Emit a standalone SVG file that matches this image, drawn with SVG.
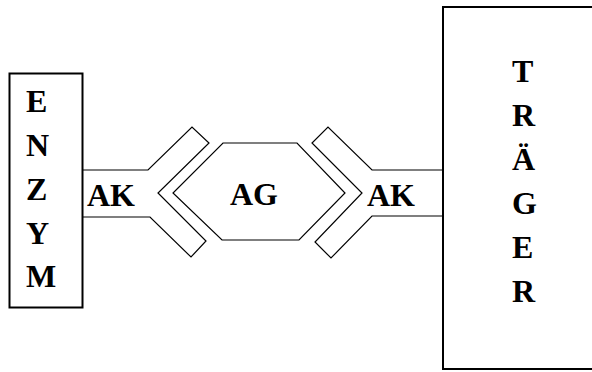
<svg xmlns="http://www.w3.org/2000/svg" width="592" height="372" viewBox="0 0 592 372">
<style>
.box{fill:none;stroke:#000;stroke-width:2}
.ln{fill:none;stroke:#000;stroke-width:1.2;stroke-linejoin:miter}
.t{font-family:"Liberation Serif","Times New Roman",serif;font-weight:bold;font-size:32px;fill:#000}
</style>
<rect width="592" height="372" fill="#fff"/>
<g id="enzym">
<rect class="box" x="9.5" y="73.5" width="73" height="234"/>
<text class="t" x="26" y="112">E</text>
<text class="t" x="26" y="156">N</text>
<text class="t" x="26" y="200">Z</text>
<text class="t" x="26" y="244">Y</text>
<text class="t" x="26" y="287">M</text>
</g>
<g id="traeger">
<rect class="box" x="443" y="7" width="170" height="362"/>
<text class="t" x="512" y="82">T</text>
<text class="t" x="512" y="126">R</text>
<text class="t" x="512" y="170">Ä</text>
<text class="t" x="512" y="214">G</text>
<text class="t" x="512" y="258">E</text>
<text class="t" x="512" y="302">R</text>
</g>
<g id="ak-left">
<polyline class="ln" points="82,170 148,170 192,127 209,143 158,193 206,241 191,257 150,217 82,217"/>
<text class="t" x="87" y="206">AK</text>
</g>
<g id="ag">
<polygon class="ln" points="223,143 297,143 345,193 299,240 222,240 173,193"/>
<text class="t" x="230" y="205">AG</text>
</g>
<g id="ak-right">
<polyline class="ln" points="443,170 372,170 328,127 312,143 362,193 315,242 331,258 372,216 443,216"/>
<text class="t" x="367" y="206">AK</text>
</g>
<g id="connectors"></g>
</svg>
